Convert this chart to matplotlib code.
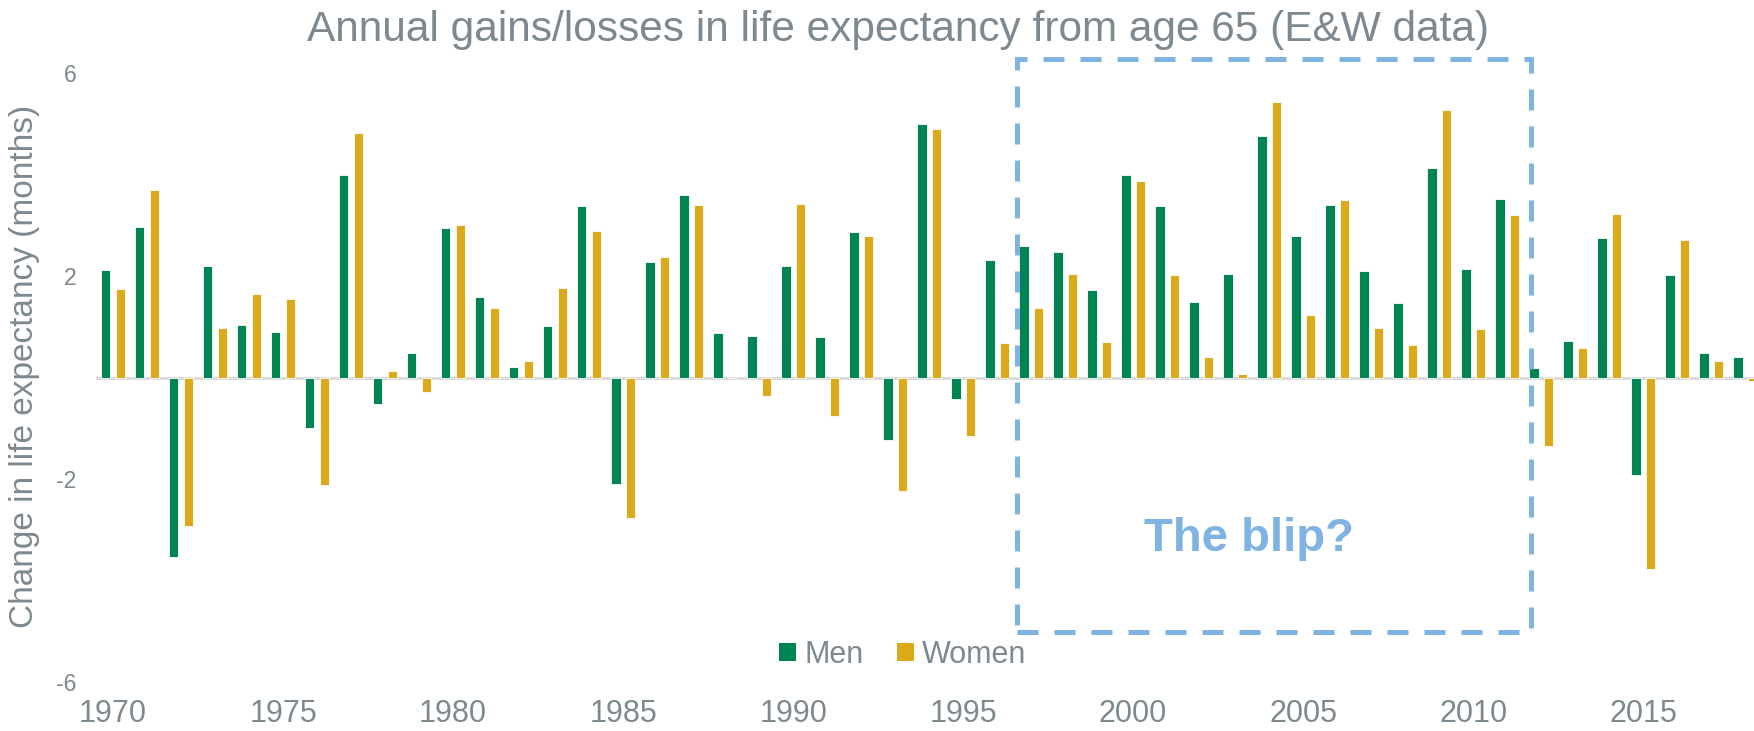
import matplotlib
matplotlib.use("Agg")
import matplotlib.pyplot as plt
import matplotlib.patches as patches
import numpy as np

plt.rcParams['font.family'] = ['Liberation Sans', 'DejaVu Sans']
plt.rcParams['axes.unicode_minus'] = False

# data (months gained/lost per year)
years = list(range(1970, 2019))
men = [2.11, 2.96, -3.53, 2.20, 1.03, 0.90, -0.99, 3.99, -0.53, 0.48,
       2.95, 1.59, 0.20, 1.02, 3.38, -2.09, 2.27, 3.59, 0.88, 0.81,
       2.20, 0.79, 2.87, -1.23, 5.00, -0.42, 2.32, 2.60, 2.47, 1.72,
       3.99, 3.38, 1.48, 2.03, 4.75, 2.78, 3.39, 2.10, 1.47, 4.12,
       2.14, 3.51, 0.19, 0.72, 2.75, -1.93, 2.01, 0.48, 0.40]
women = [1.74, 3.69, -2.92, 0.98, 1.64, 1.55, -2.11, 4.81, 0.13, -0.28,
         3.00, 1.36, 0.32, 1.77, 2.88, -2.76, 2.38, 3.39, 0.0, -0.37,
         3.42, -0.76, 2.78, -2.24, 4.89, -1.15, 0.68, 1.37, 2.04, 0.70,
         3.88, 2.01, 0.41, 0.06, 5.43, 1.24, 3.50, 0.97, 0.64, 5.28,
         0.95, 3.21, -1.35, 0.58, 3.22, -3.77, 2.70, 0.32, -0.07]
xticks = [1970, 1975, 1980, 1985, 1990, 1995, 2000, 2005, 2010, 2015]
yticks = [-6, -2, 2, 6]

green = '#008552'
gold = '#DAAA1A'
grey = '#7D898F'
blue = '#7FB3E1'

fig = plt.figure(figsize=(17.54, 7.31), dpi=100)
ax = fig.add_axes([96 / 1754, 49 / 731, 1658 / 1754, 609 / 731])

x = np.array(years)
w = 0.28
ax.bar(x - 0.215, men, width=w, color=green, edgecolor='white', linewidth=0.6, label='Men', zorder=2)
ax.bar(x + 0.215, women, width=w, color=gold, edgecolor='white', linewidth=0.6, label='Women', zorder=2)
ax.axhline(0, color='#D9D9D9', linewidth=2, zorder=1)

ax.set_xlim(1969.5, 2018.26)
ax.set_ylim(-6, 6)
ax.set_xticks(xticks)
ax.set_xticklabels([str(t) for t in xticks])
ax.set_yticks(yticks)
ax.set_yticklabels([str(t) for t in yticks])
ax.tick_params(axis='x', length=0, pad=12, labelsize=22, labelcolor=grey)
ax.tick_params(axis='y', length=0, pad=14, labelsize=16.5, labelcolor=grey)
for s in ax.spines.values():
    s.set_visible(False)

# highlight box
box = patches.Rectangle((1996.6, -5.02), 15.1, 11.3, fill=False, edgecolor=blue,
                        linewidth=3.6, linestyle=(0, (4.2, 3.2)), clip_on=False, zorder=3)
ax.add_patch(box)
ax.text(2003.4, -3.19, "The blip?", color=blue, fontsize=34, fontweight='bold',
        ha='center', va='center')

fig.text(898 / 1754, 1 - 30 / 731, "Annual gains/losses in life expectancy from age 65 (E&W data)",
         ha='center', va='center', fontsize=30.5, color=grey)
fig.text(25 / 1754, 1 - 366 / 731, "Change in life expectancy (months)", rotation=90,
         ha='center', va='center', fontsize=24, color=grey)

leg = ax.legend(loc='center', bbox_to_anchor=(903 / 1754, 1 - 655 / 731),
                bbox_transform=fig.transFigure, ncol=2, frameon=False, fontsize=22,
                handlelength=0.55, handleheight=0.55, handletextpad=0.28, columnspacing=1.07,
                borderpad=0)
for t in leg.get_texts():
    t.set_color(grey)
for h in leg.legend_handles:
    h.set_edgecolor('none')

fig.savefig("out.png", dpi=100)
